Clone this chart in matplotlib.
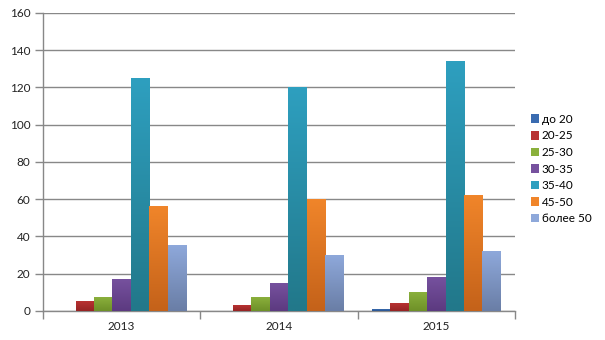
import matplotlib
matplotlib.use("Agg")
import matplotlib.pyplot as plt
import numpy as np
from matplotlib.patches import Patch
from matplotlib.colors import to_rgb

plt.rcParams['font.family'] = ['Lato', 'DejaVu Sans']

years = ['2013', '2014', '2015']
series = ['до 20', '20-25', '25-30', '30-35', '35-40', '45-50', 'более 50']
do20 = [0, 0, 1]
s20_25 = [5, 3, 4]
s25_30 = [7, 7, 10]
s30_35 = [17, 15, 18]
s35_40 = [125, 120, 134]
s45_50 = [56, 60, 62]
bolee50 = [35, 30, 32]
values = [do20, s20_25, s25_30, s30_35, s35_40, s45_50, bolee50]

# (top colour, bottom colour)
colors = [
    ('#3A6BB0', '#2A5590'),
    ('#B83232', '#962424'),
    ('#8AB03C', '#6E9028'),
    ('#76519E', '#5C3A80'),
    ('#2E9FBF', '#22788A'),
    ('#F0852A', '#C4621A'),
    ('#8EA8DA', '#6A7EA6'),
]

fig = plt.figure(figsize=(6.05, 3.4), dpi=100)
ax = fig.add_axes([0.0711, 0.0853, 0.7802, 0.8765])

n = len(series)
w = 0.82 / n
x = np.arange(len(years))
for i, (vals, (ct, cb)) in enumerate(zip(values, colors)):
    top = np.array(to_rgb(ct))
    bot = np.array(to_rgb(cb))
    grad = np.linspace(0, 1, 64)[:, None]
    img = (top[None, :] * (1 - grad) + bot[None, :] * grad)[:, None, :]
    for xi, v in zip(x, vals):
        if v <= 0:
            continue
        x0 = xi + (i - (n - 1) / 2) * w - w / 2
        ax.imshow(img, extent=[x0, x0 + w, 0, v], aspect='auto',
                  origin='upper', zorder=3, interpolation='bilinear')

ax.set_xlim(-0.5, 2.5)
ax.set_ylim(0, 160)
ax.set_yticks(np.arange(0, 161, 20))
ax.yaxis.grid(True, color='#888888', linewidth=1)
ax.set_axisbelow(True)

ax.set_xticks([-0.5, 0.5, 1.5, 2.5])
ax.set_xticklabels([])
ax.set_xticks(x, minor=True)
ax.set_xticklabels(years, minor=True)
ax.tick_params(axis='x', which='major', length=6, direction='out', color='#888888', width=1)
ax.tick_params(axis='x', which='minor', length=0, pad=7, labelsize=8.5, labelcolor='#222222')
ax.tick_params(axis='y', length=6, direction='out', color='#888888', width=1, labelsize=8.5,
               labelcolor='#222222', pad=3)

for s in ['top', 'right']:
    ax.spines[s].set_visible(False)
for s in ['left', 'bottom']:
    ax.spines[s].set_color('#888888')
    ax.spines[s].set_linewidth(1)

handles = [Patch(facecolor=ct, edgecolor='none') for ct, cb in colors]
fig.legend(handles, series, loc='upper left', bbox_to_anchor=(0.877, 0.665),
           frameon=False, fontsize=8.5, handlelength=0.75, handleheight=0.75,
           handletextpad=0.2, labelspacing=0.47, borderaxespad=0, borderpad=0)

fig.savefig('out.png', dpi=100)
